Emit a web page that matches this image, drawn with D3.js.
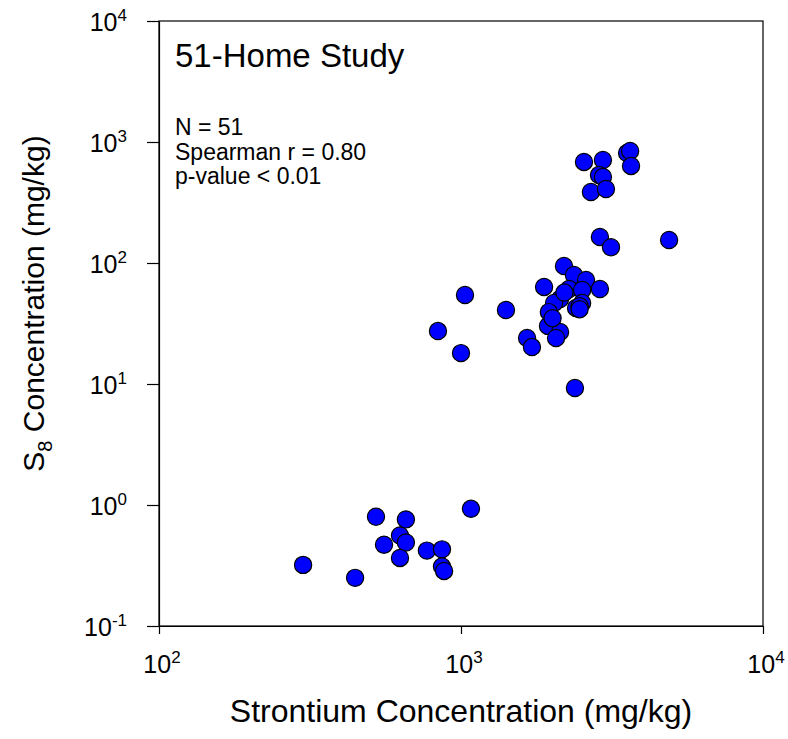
<!DOCTYPE html>
<html>
<head>
<meta charset="utf-8">
<script src="https://cdn.jsdelivr.net/npm/d3@7"></script>
<style>
  body { margin: 0; background: #fff; }
  svg text { font-family: "Liberation Sans", Arial, sans-serif; fill: #000; }
  .axis path, .axis line { stroke: #000; stroke-width: 1.2; }
</style>
</head>
<body>
<svg id="chart"></svg>
<script>
// Strontium (x) vs S8 (y), mg/kg
const strontium = [
  300, 446, 523, 556, 628, 657, 657, 628, 771, 865, 865, 879, 1079,
  839, 1000, 1031, 1409,
  2554, 2951, 2864, 2951, 2693, 3020, 3548, 3631, 3656,
  2884, 3138, 4887,
  2193, 2366, 2594, 2884, 2279, 2518, 1884, 2128, 2033, 1954, 2518, 2404, 2470,
  1941, 2128, 2064, 1655, 1718,
  2384, 2470, 2200, 2010
];
const s8 = [
  0.32, 0.25, 0.80, 0.47, 0.56, 0.76, 0.49, 0.365, 0.42, 0.43, 0.31, 0.285, 0.93,
  27.4, 18.0, 54.4, 40.9,
  684, 710, 533, 514, 386, 409, 811, 843, 634,
  164, 135, 155,
  94.4, 79.6, 72.4, 61, 61, 59.8, 63.4, 50.4, 46.7, 39.3, 46.7, 42.5, 44,
  30.2, 26.9, 24, 24, 20.2,
  9.27, 41.5, 57, 35
];
const xTicks = [100, 1000, 10000];
const yTicks = [0.1, 1, 10, 100, 1000, 10000];
const statLines = ["N = 51", "Spearman r = 0.80", "p-value < 0.01"];

const width = 788, height = 739;
const plot = {left: 159, right: 763, top: 21, bottom: 626};

const svg = d3.select('#chart')
    .attr('width', width)
    .attr('height', height);

const x = d3.scaleLog().domain([100, 10000]).range([plot.left, plot.right]);
const y = d3.scaleLog().domain([0.1, 10000]).range([plot.bottom, plot.top]);

const expOf = v => Math.round(Math.log10(v));

// frame
svg.append('rect')
    .attr('x', plot.left)
    .attr('y', plot.top)
    .attr('width', plot.right - plot.left)
    .attr('height', plot.bottom - plot.top)
    .attr('fill', 'none')
    .attr('stroke', '#000')
    .attr('stroke-width', 1.2);

// axes
svg.append('g')
    .attr('class', 'axis')
    .attr('transform', `translate(0,${plot.bottom})`)
    .call(d3.axisBottom(x).tickValues(xTicks).tickSize(8).tickSizeOuter(0).tickFormat(() => ''));

svg.append('g')
    .attr('class', 'axis')
    .attr('transform', `translate(${plot.left},0)`)
    .call(d3.axisLeft(y).tickValues(yTicks).tickSize(12).tickSizeOuter(0).tickFormat(() => ''));

// tick labels as 10 with superscript exponent
function powerLabel(sel) {
  sel.append('tspan').text('10');
  sel.append('tspan')
      .attr('font-size', 17)
      .attr('dy', -10)
      .text(d => expOf(d));
}

svg.append('g').selectAll('text')
    .data(xTicks)
  .join('text')
    .attr('x', d => x(d) + 3)
    .attr('y', 673)
    .attr('text-anchor', 'middle')
    .attr('font-size', 25)
    .call(powerLabel);

svg.append('g').selectAll('text')
    .data(yTicks)
  .join('text')
    .attr('x', 127)
    .attr('y', d => y(d) + 10)
    .attr('text-anchor', 'end')
    .attr('font-size', 25)
    .call(powerLabel);

// axis titles
svg.append('text')
    .attr('x', (plot.left + plot.right) / 2)
    .attr('y', 722)
    .attr('text-anchor', 'middle')
    .attr('font-size', 32)
    .text('Strontium Concentration (mg/kg)');

const yTitle = svg.append('text')
    .attr('transform', `translate(44,${(plot.top + plot.bottom) / 2 - 20}) rotate(-90)`)
    .attr('text-anchor', 'middle')
    .attr('font-size', 30);
yTitle.append('tspan').text('S');
yTitle.append('tspan').attr('font-size', 20).attr('dy', 8).text('8');
yTitle.append('tspan').attr('dy', -8).text(' Concentration (mg/kg)');

// title and stats
svg.append('text')
    .attr('x', 175)
    .attr('y', 67)
    .attr('font-size', 33)
    .text('51-Home Study');

svg.append('g').selectAll('text')
    .data(statLines)
  .join('text')
    .attr('x', 175)
    .attr('y', (d, i) => 135 + i * 24.5)
    .attr('font-size', 23)
    .text(d => d);

// points
svg.append('g').selectAll('circle')
    .data(strontium.map((v, i) => ({sr: v, s8: s8[i]})))
  .join('circle')
    .attr('cx', d => x(d.sr))
    .attr('cy', d => y(d.s8))
    .attr('r', 8.6)
    .attr('fill', '#0000ff')
    .attr('stroke', '#000')
    .attr('stroke-width', 1.2);
</script>
</body>
</html>
